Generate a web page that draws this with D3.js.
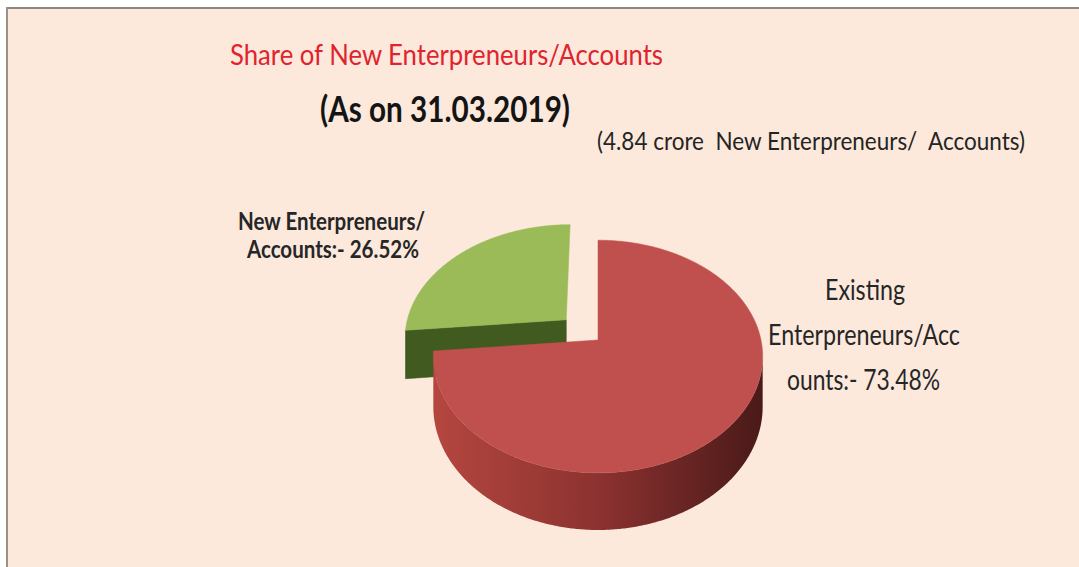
<!DOCTYPE html>
<html>
<head>
<meta charset="utf-8">
<script src="https://d3js.org/d3.v7.min.js"></script>
<style>
  body { margin:0; background:#fff; }
  text { font-family: Lato, "Open Sans", sans-serif; white-space: pre; }
</style>
</head>
<body>
<script>
var width = 1079, height = 567;

// data
var categories = ['Existing Enterpreneurs/Accounts', 'New Enterpreneurs/Accounts'];
var shares = [73.48, 26.52];
var explode = [0, 0.27];
var labelBreaks = [[8, 26], [18]];   // where the label text wraps
var title = 'Share of New Enterpreneurs/Accounts';
var subtitle = '(As on 31.03.2019)';
var note = '(4.84 crore  New Enterpreneurs/  Accounts)';

// colours: top face, side (light, mid, dark), cut face
var topColors = ['#c0504d', '#9bbb59'];
var sideColors = [['#b4463f', '#8c3230', '#4a1a19'], ['#5b7631', '#46601f', '#2c3d12']];
var cutColors = ['#8c3230', '#415a1f'];

var svg = d3.select('body').append('svg')
  .attr('width', width)
  .attr('height', height);
var defs = svg.append('defs');

// frame
svg.append('rect').attr('x', 6).attr('y', 7)
  .attr('width', width - 6).attr('height', height - 7)
  .attr('fill', '#fce9dc');
svg.append('line').attr('x1', 6).attr('x2', width).attr('y1', 8).attr('y2', 8)
  .attr('stroke', '#8d8782').attr('stroke-width', 2);
svg.append('line').attr('x1', 7).attr('x2', 7).attr('y1', 7).attr('y2', height)
  .attr('stroke', '#9a918b').attr('stroke-width', 2);

// 3d pie geometry
var cx = 598, cy = 340, rx = 163, ry = 114, persp = 0.142, depth = 49;
function proj(u, w, dz) {
  var s = 1 / (1 - persp * w);
  return [cx + rx * u * s, cy + ry * w * s + dz * s];
}

var pie = d3.pie().sort(null).value(function(d) { return d.value; });
var arcs = pie(shares.map(function(v, i) { return { name: categories[i], value: v, i: i }; }));

arcs.forEach(function(a) {
  var mid = (a.startAngle + a.endAngle) / 2;
  var k = explode[a.data.i];
  a.ou = k * Math.sin(mid);
  a.ow = -k * Math.cos(mid);
  a.rim = function(t, dz) { return proj(a.ou + Math.sin(t), a.ow - Math.cos(t), dz); };
  a.centre = function(dz) { return proj(a.ou, a.ow, dz); };
});

function area(p) {
  var s = 0;
  for (var i = 0; i < p.length; i++) {
    var q = p[(i + 1) % p.length];
    s += p[i][0] * q[1] - q[0] * p[i][1];
  }
  return s / 2;
}
var line = d3.line();

// back slices first
var order = arcs.slice().sort(function(a, b) { return a.ow - b.ow; });

order.forEach(function(a) {
  var i = a.data.i;
  var g = svg.append('g');

  // shading of the wall runs from left (light) to right (dark)
  var left = proj(a.ou - 1, a.ow, 0)[0], right = proj(a.ou + 1, a.ow, 0)[0];
  var grad = defs.append('linearGradient').attr('id', 'side' + i)
    .attr('gradientUnits', 'userSpaceOnUse')
    .attr('x1', left).attr('x2', right).attr('y1', 0).attr('y2', 0);
  sideColors[i].forEach(function(c, j) {
    grad.append('stop').attr('offset', j / 2).attr('stop-color', c);
  });

  // outer wall: keep the runs of the rim that face us
  var step = Math.PI / 360;
  var runs = [], cur = null;
  for (var t = a.startAngle; t < a.endAngle - 1e-9; t += step) {
    var t2 = Math.min(t + step, a.endAngle);
    var quad = [a.rim(t, 0), a.rim(t2, 0), a.rim(t2, depth), a.rim(t, depth)];
    if (area(quad) < 0) {
      if (!cur) { cur = [t]; runs.push(cur); }
      cur.push(t2);
    } else cur = null;
  }
  runs.forEach(function(r) {
    var top = r.map(function(t) { return a.rim(t, 0); });
    var bot = r.map(function(t) { return a.rim(t, depth); }).reverse();
    g.append('path').attr('d', line(top.concat(bot)) + 'Z')
      .attr('fill', 'url(#side' + i + ')');
  });

  // cut faces
  var startFace = [a.centre(0), a.rim(a.startAngle, 0), a.rim(a.startAngle, depth), a.centre(depth)];
  var endFace = [a.rim(a.endAngle, 0), a.centre(0), a.centre(depth), a.rim(a.endAngle, depth)];
  [startFace, endFace].forEach(function(f) {
    if (area(f) < -300 && a.data.value < 100) {
      g.append('path').attr('d', line(f) + 'Z')
        .attr('fill', cutColors[i]).attr('stroke', cutColors[i]).attr('stroke-width', 0.6);
    }
  });

  // top face
  var pts = [a.centre(0)];
  var n = Math.ceil((a.endAngle - a.startAngle) / step);
  for (var j = 0; j <= n; j++) {
    pts.push(a.rim(a.startAngle + (a.endAngle - a.startAngle) * j / n, 0));
  }
  g.append('path').attr('d', line(pts) + 'Z')
    .attr('fill', topColors[i]).attr('stroke', topColors[i]).attr('stroke-width', 0.5);
});

// texts
function addText(str, x, y, len, size, weight, color) {
  svg.append('text')
    .attr('x', x).attr('y', y)
    .attr('textLength', len).attr('lengthAdjust', 'spacingAndGlyphs')
    .style('font-size', size + 'px').style('font-weight', weight)
    .attr('fill', color)
    .text(str);
}

addText(title, 230, 65, 433, 28, 400, '#e0232e');
addText(subtitle, 320, 122, 250, 37, 700, '#141414');
addText(note, 597, 150, 428, 25, 400, '#242424');

function labelLines(a) {
  var s = a.data.name + ':- ' + d3.format('.2f')(a.data.value) + '%';
  var cuts = [0].concat(labelBreaks[a.data.i], [s.length]);
  var out = [];
  for (var j = 0; j < cuts.length - 1; j++) out.push(s.slice(cuts[j], cuts[j + 1]).trim());
  return out;
}

// label layout: x, baseline, width of each line
var labelLayout = [
  { lines: [[825, 300, 80], [768, 345, 192], [787, 390, 153]], size: 28, weight: 400 },
  { lines: [[238, 230, 187], [247, 258, 172]], size: 25, weight: 700 }
];
arcs.forEach(function(a) {
  var lay = labelLayout[a.data.i];
  labelLines(a).forEach(function(str, j) {
    var p = lay.lines[j];
    addText(str, p[0], p[1], p[2], lay.size, lay.weight, '#262626');
  });
});
</script>
</body>
</html>
